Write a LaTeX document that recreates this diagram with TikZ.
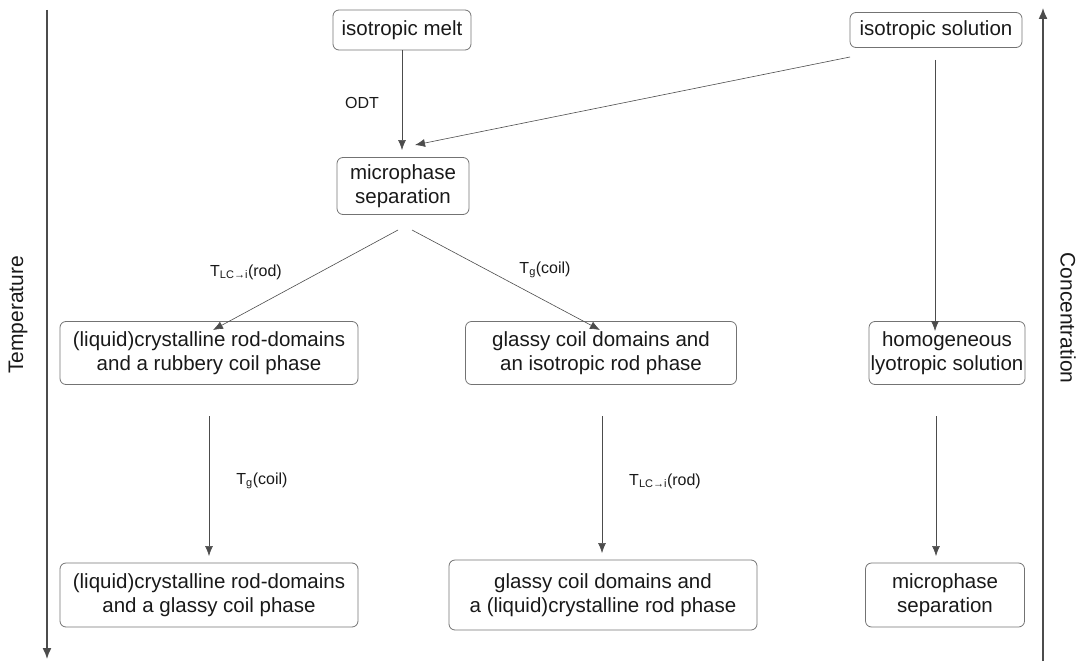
\documentclass[tikz,border=0pt]{standalone}
\usepackage{fontspec}
\setmainfont{Liberation Sans}
\usetikzlibrary{arrows.meta}
\newcommand{\lcsub}{\textsubscript{\fontsize{11}{12}\selectfont LC→i}}
\newcommand{\gsub}{\textsubscript{\fontsize{11}{12}\selectfont g}}
\begin{document}
\begin{tikzpicture}[x=1pt,y=-1pt,
  box/.style={draw=black!55, line width=0.8pt, rounded corners=6pt, align=center,
    font=\fontsize{20.5}{24}\selectfont, inner sep=0pt, text=black!90},
  lbl/.style={font=\fontsize{16}{18}\selectfont, text=black!90},
  axlbl/.style={font=\fontsize{21}{24}\selectfont, text=black!90},
  arr/.style={draw=black!70, line width=0.6pt, -{Latex[length=10pt,width=8pt]}},
  axarr/.style={draw=black!70, line width=1.4pt, -{Latex[length=11pt,width=9pt]}}]
\useasboundingbox (0,0) rectangle (1081,661);
\node[box, minimum width=138, minimum height=40] (melt) at (402,30) {isotropic melt};
\node[box, minimum width=172, minimum height=35] (sol) at (936,30) {isotropic solution};
\node[box, minimum width=132, minimum height=57] (micro) at (403,186) {microphase\\separation};
\node[box, minimum width=298, minimum height=63] (lc) at (209,353) {(liquid)crystalline rod-domains\\and a rubbery coil phase};
\node[box, minimum width=271, minimum height=63] (gl) at (601,353) {glassy coil domains and\\an isotropic rod phase};
\node[box, minimum width=156, minimum height=63] (hom) at (947,353) {homogeneous\\lyotropic solution};
\node[box, minimum width=298, minimum height=64] (lcb) at (209,595) {(liquid)crystalline rod-domains\\and a glassy coil phase};
\node[box, minimum width=308, minimum height=70] (glb) at (603,595) {glassy coil domains and\\a (liquid)crystalline rod phase};
\node[box, minimum width=159, minimum height=64] (mpb) at (945,595) {microphase\\separation};
% connectors
\coordinate (m1) at (402,150);
\draw[arr] (melt.south -| m1) -- (m1);
\coordinate (s1) at (850,57);
\coordinate (s2) at (415,145);
\draw[arr] (s1) -- (s2);
\coordinate (c1) at (398,230);
\coordinate (c2) at (213,330);
\draw[arr] (c1) -- (c2);
\coordinate (d1) at (412,230);
\coordinate (d2) at (600,330);
\draw[arr] (d1) -- (d2);
\coordinate (h1) at (935,60);
\coordinate (h2) at (935,331);
\draw[arr] (h1) -- (h2);
\coordinate (l1) at (209,416);
\coordinate (l2) at (209,556);
\draw[arr] (l1) -- (l2);
\coordinate (g1) at (602,416);
\coordinate (g2) at (602,553);
\draw[arr] (g1) -- (g2);
\coordinate (r1) at (936,416);
\coordinate (r2) at (936,556);
\draw[arr] (r1) -- (r2);
% labels
\node[lbl] (odt) at (362,103) {ODT};
\node[lbl] (la) at (246,272) {T\lcsub(rod)};
\node[lbl] (lb) at (545,270) {T\gsub(coil)};
\node[lbl] (lc2) at (262,481) {T\gsub(coil)};
\node[lbl] (ld) at (665,481) {T\lcsub(rod)};
% axes
\coordinate (t1) at (47,10);
\coordinate (t2) at (47,659);
\draw[axarr] (t1) -- (t2);
\node[axlbl, rotate=90] (temp) at (18,315) {Temperature};
\coordinate (k1) at (1043,661);
\coordinate (k2) at (1043,8);
\draw[axarr] (k1) -- (k2);
\node[axlbl, rotate=-90] (conc) at (1068,318) {Concentration};
\end{tikzpicture}
\end{document}
